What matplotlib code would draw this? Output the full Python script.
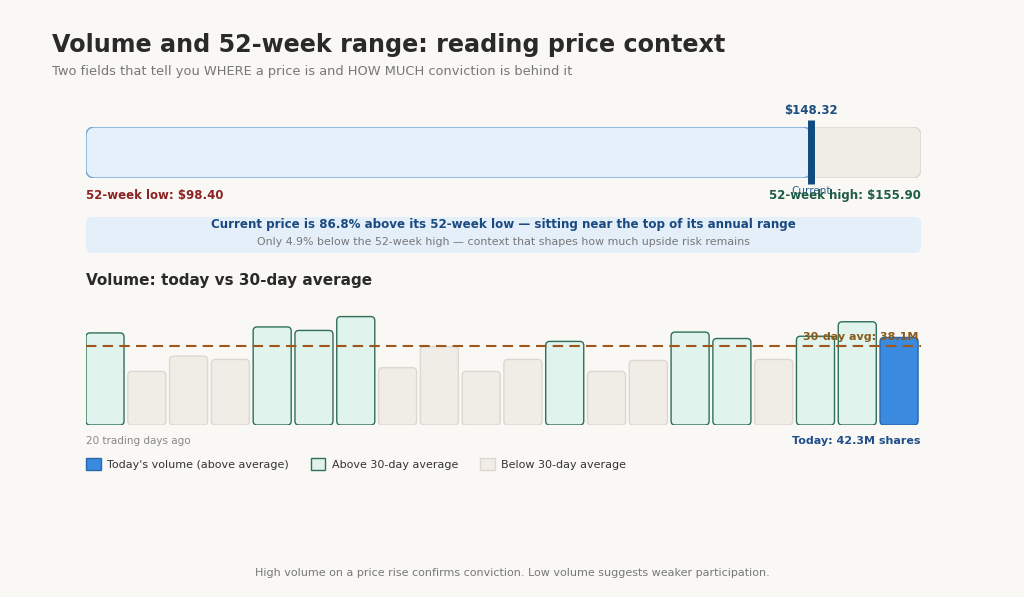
import matplotlib

matplotlib.use("Agg")
import matplotlib.pyplot as plt
from matplotlib.patches import FancyBboxPatch, Patch

# data
low_52w = 98.40
high_52w = 155.90
current_price = 148.32
pct_above_low = 86.8
pct_below_high = 4.9

avg_30d = 38.1
volumes = [44.5, 25.9, 33.3, 31.7, 47.4, 45.7, 52.4, 27.7, 37.9, 25.9,
           31.7, 40.4, 25.9, 31.2, 44.9, 41.8, 31.7, 42.9, 49.9, 42.3]

W, H = 1024, 597
BG = "#f9f8f5"


def fx(x):
    return x / W


def fy(y):
    return 1 - y / H


fig = plt.figure(figsize=(W / 100, H / 100), dpi=100, facecolor=BG)

fig.text(fx(52), fy(45), "Volume and 52-week range: reading price context",
         fontsize=17.2, fontweight="bold", color="#2a2a2a", va="center")
fig.text(fx(52), fy(72), "Two fields that tell you WHERE a price is and HOW MUCH conviction is behind it",
         fontsize=9.4, color="#777777", va="center")

# ---- 52-week range bar ----
left, right = 86, 921
ax_r = fig.add_axes([fx(left), fy(178), fx(right - left), (178 - 127) / H])
ax_r.set_xlim(low_52w, high_52w)
ax_r.set_ylim(0, 1)
ax_r.axis("off")
xu = (high_52w - low_52w) / (right - left)  # price per px
asp = (1 / 51) / xu

track = FancyBboxPatch((low_52w, 0), high_52w - low_52w, 1,
                       boxstyle=f"round,pad=0,rounding_size={9 * xu}",
                       mutation_aspect=asp, fc="#f0ede6", ec="#dcd8d0", lw=1)
ax_r.add_patch(track)
fill = FancyBboxPatch((low_52w, 0), current_price - low_52w, 1,
                      boxstyle=f"round,pad=0,rounding_size={9 * xu}",
                      mutation_aspect=asp, fc="#e6f0fa", ec="#6fa8dc", lw=1)
ax_r.add_patch(fill)
ax_r.plot([current_price, current_price], [-0.12, 1.14], color="#0f4a80", lw=5,
          solid_capstyle="butt", clip_on=False)
ax_r.text(current_price, 1.33, f"${current_price:.2f}", ha="center", va="center",
          fontsize=8.5, fontweight="bold", color="#1f4e80")
ax_r.text(current_price, -0.25, "Current", ha="center", va="center",
          fontsize=7.5, color="#2d5f95")
ax_r.text(low_52w, -0.35, f"52-week low: ${low_52w:.2f}", ha="left", va="center",
          fontsize=8.5, fontweight="bold", color="#8b2323")
ax_r.text(high_52w, -0.35, f"52-week high: ${high_52w:.2f}", ha="right", va="center",
          fontsize=8.5, fontweight="bold", color="#1f5c45")

# info box
ax_i = fig.add_axes([fx(left), fy(253), fx(right - left), (253 - 217) / H])
ax_i.set_xlim(0, right - left)
ax_i.set_ylim(0, 36)
ax_i.axis("off")
ax_i.add_patch(FancyBboxPatch((0, 0), right - left, 36,
                              boxstyle="round,pad=0,rounding_size=6",
                              fc="#e4eff9", ec="none"))
ax_i.text((right - left) / 2, 28, f"Current price is {pct_above_low}% above its 52-week low \u2014 "
          "sitting near the top of its annual range", ha="center", va="center",
          fontsize=8.6, fontweight="bold", color="#1b4a80")
ax_i.text((right - left) / 2, 11, f"Only {pct_below_high}% below the 52-week high \u2014 "
          "context that shapes how much upside risk remains", ha="center", va="center",
          fontsize=7.9, color="#777777")

fig.text(fx(86), fy(280), "Volume: today vs 30-day average", fontsize=11,
         fontweight="bold", color="#2a2a2a", va="center")

# ---- volume bars ----
bar_top_px, bar_bot_px = 305, 425
ymax = 58
ax_v = fig.add_axes([fx(left), fy(bar_bot_px), fx(right - left), (bar_bot_px - bar_top_px) / H])
n = len(volumes)
bw = 0.91
ax_v.set_xlim(-bw / 2, n - 1 + bw / 2 + 0.07)
ax_v.set_ylim(0, ymax)
ax_v.axis("off")
xpx = (right - left) / (n - 1 + bw + 0.07)
ypx = (bar_bot_px - bar_top_px) / ymax
for i, v in enumerate(volumes):
    if i == n - 1:
        fc, ec = "#3a8ae0", "#2a66aa"
    elif v > avg_30d:
        fc, ec = "#e0f3ec", "#2f6e5a"
    else:
        fc, ec = "#f0ede6", "#dcd8d0"
    ax_v.add_patch(FancyBboxPatch((i - bw / 2, 0), bw, v,
                                  boxstyle=f"round,pad=0,rounding_size={4 / xpx}",
                                  mutation_aspect=xpx / ypx, fc=fc, ec=ec, lw=1))
ax_v.axhline(avg_30d, color="#a0561a", lw=1.5, ls=(0, (5, 3)))
ax_v.text(n - 1 + bw / 2, avg_30d + 4.2, f"30-day avg: {avg_30d}M", ha="right", va="center",
          fontsize=8, fontweight="bold", color="#8a5a1a")

fig.text(fx(86), fy(441), "20 trading days ago", fontsize=7.5, color="#888888", va="center")
fig.text(fx(921), fy(441), f"Today: {volumes[-1]}M shares", fontsize=8, fontweight="bold",
         color="#1f4e8a", va="center", ha="right")

handles = [
    Patch(fc="#3a8ae0", ec="#2a66aa", label="Today's volume (above average)"),
    Patch(fc="#e0f3ec", ec="#2f6e5a", label="Above 30-day average"),
    Patch(fc="#f0ede6", ec="#dcd8d0", label="Below 30-day average"),
]
fig.legend(handles=handles, loc="center left", bbox_to_anchor=(fx(82), fy(464)), ncol=3,
           frameon=False, fontsize=8, handlelength=1.3, handleheight=1.3,
           handletextpad=0.55, columnspacing=2.0, labelcolor="#333333", borderaxespad=0)

fig.text(0.5, fy(573), "High volume on a price rise confirms conviction. "
         "Low volume suggests weaker participation.", fontsize=8, color="#777777",
         va="center", ha="center")

fig.savefig("out.png", dpi=100, facecolor=BG)
